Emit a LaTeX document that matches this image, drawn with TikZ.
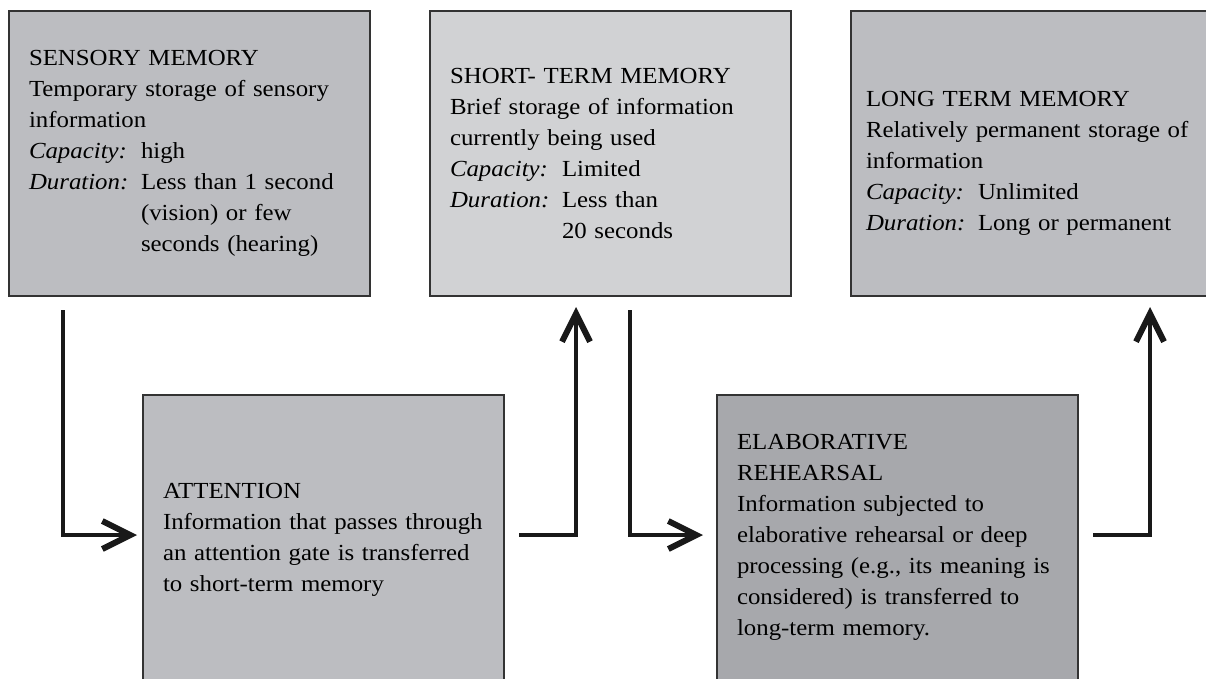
\documentclass[tikz,border=0pt]{standalone}
\usepackage{fontspec}
\setmainfont{Liberation Serif}[FakeStretch=1.08]
\usetikzlibrary{arrows.meta}

\definecolor{boxgray}{HTML}{BCBDC1}
\definecolor{boxlight}{HTML}{D1D2D4}
\definecolor{boxdark}{HTML}{A7A8AC}
\definecolor{edgegray}{HTML}{333333}

\newcommand{\memlabel}[1]{\makebox[112pt][l]{\textit{#1}}}

\tikzset{
  memorybox/.style={draw=edgegray, line width=2pt, anchor=north west, align=left,
    inner xsep=20pt, text width=321pt, minimum height=285pt,
    font=\fontsize{23}{31}\selectfont},
  stagebox/.style={memorybox, minimum height=0pt, text depth=300pt},
  flow/.style={line width=4pt, draw=black!90, -{Straight Barb[length=28pt, width=28pt, line width=6pt]}}
}

\begin{document}
\begin{tikzpicture}[x=1pt, y=-1pt]
\clip (0,0) rectangle (1206,678);
\fill[white] (0,0) rectangle (1206,678);

% Memory stores
\node[memorybox, fill=boxgray] (sensory) at (8,10) {SENSORY MEMORY\\Temporary storage of sensory\\information\\
  \memlabel{Capacity:}high\\\memlabel{Duration:}Less than 1 second\\\hspace*{112pt}(vision) or few\\\hspace*{112pt}seconds (hearing)};
\node[memorybox, fill=boxlight] (stm) at (429,10) {SHORT- TERM MEMORY\\Brief storage of information\\currently being used\\
  \memlabel{Capacity:}Limited\\\memlabel{Duration:}Less than\\\hspace*{112pt}20 seconds};
\node[memorybox, fill=boxgray, inner xsep=15pt, text width=331pt, text depth=110pt] (ltm) at (850,10) {LONG TERM MEMORY\\Relatively permanent storage of\\information\\
  \memlabel{Capacity:}Unlimited\\\memlabel{Duration:}Long or permanent};

% Processes
\node[stagebox, fill=boxgray, inner ysep=88pt] (attention) at (142,394) {ATTENTION\\Information that passes through\\an attention gate is transferred\\to short-term memory};
\node[stagebox, fill=boxdark, inner ysep=39pt] (rehearsal) at (716,394) {ELABORATIVE\\REHEARSAL\\Information subjected to\\elaborative rehearsal or deep\\processing (e.g., its meaning is\\considered) is transferred to\\long-term memory.};

% Arrows
\draw[flow] ([xshift=55pt,yshift=-13pt]sensory.south west) |- ([xshift=-5pt,yshift=-141pt]attention.north west);
\draw[flow] ([xshift=14pt,yshift=-141pt]attention.north east) -| ([xshift=147pt,yshift=-10pt]stm.south west);
\draw[flow] ([xshift=201pt,yshift=-13pt]stm.south west) |- ([xshift=-13pt,yshift=-141pt]rehearsal.north west);
\draw[flow] ([xshift=14pt,yshift=-141pt]rehearsal.north east) -| ([xshift=300pt,yshift=-10pt]ltm.south west);

\end{tikzpicture}
\end{document}
